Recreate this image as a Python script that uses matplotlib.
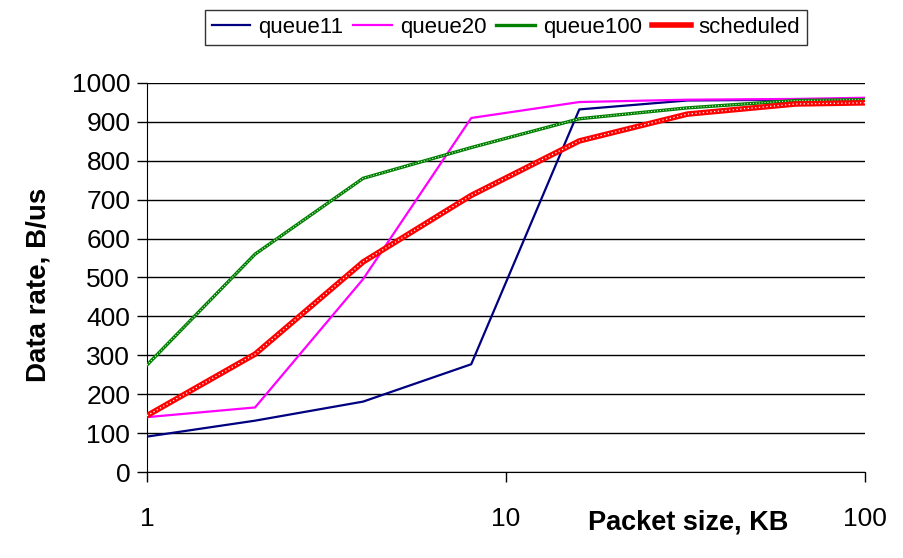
import matplotlib
matplotlib.use("Agg")
import matplotlib.pyplot as plt
from matplotlib.ticker import FixedLocator, NullLocator

plt.rcParams['font.family'] = ['Liberation Sans', 'DejaVu Sans']

# packet sizes (KB) and measured data rates (B/us)
packet_kb = [1, 2, 4, 8, 16, 32, 64, 100]
queue11 = [91, 132, 181, 277, 932, 955, 957, 960]
queue20 = [141, 166, 496, 910, 951, 957, 959, 962]
queue100 = [275, 560, 755, 834, 908, 936, 955, 957]
scheduled = [145, 303, 540, 711, 851, 920, 946, 949]

y_ticks = list(range(0, 1001, 100))
x_ticks = [1, 10, 100]
x_tick_labels = ["1", "10", "100"]

fig = plt.figure(figsize=(9.04, 5.58), dpi=100)
ax = fig.add_axes([0.1626, 0.1541, 0.7943, 0.6972])

ax.plot(packet_kb, queue11, color="#000080", lw=1.6, label="queue11", zorder=3)
ax.plot(packet_kb, queue20, color="#ff00ff", lw=1.6, label="queue20", zorder=3)
ax.plot(packet_kb, queue100, color="#008000", lw=2.4, label="queue100", zorder=3)
ax.plot(packet_kb, queue100, color="white", lw=0.7, ls=(0, (1, 2)), zorder=3)
ax.plot(packet_kb, scheduled, color="#ff0000", lw=4, label="scheduled", zorder=4)
ax.plot(packet_kb, scheduled, color="white", lw=0.9, ls=(0, (1, 2)), zorder=4)

ax.set_xscale("log")
ax.set_xlim(1, 100)
ax.set_ylim(0, 1000)
ax.xaxis.set_major_locator(FixedLocator(x_ticks))
ax.xaxis.set_minor_locator(NullLocator())
ax.set_xticklabels(x_tick_labels)
ax.set_yticks(y_ticks)

ax.grid(axis="y", color="black", lw=1)
ax.set_axisbelow(True)
for side in ["top", "right"]:
    ax.spines[side].set_visible(False)
ax.tick_params(axis="y", direction="out", length=7, width=1, labelsize=19, pad=5)
ax.tick_params(axis="x", direction="out", length=7, width=1, labelsize=19, pad=18)

fig.text(0.043, 0.49, "Data rate, B/us", rotation=90, fontsize=20,
         fontweight="bold", ha="center", va="center")
fig.text(0.761, 0.064, "Packet size, KB", fontsize=19.5,
         fontweight="bold", ha="center", va="center")

leg = fig.legend(loc="center", bbox_to_anchor=(0.5597, 0.951), ncol=4,
                 fontsize=16, frameon=True, fancybox=False, edgecolor="black",
                 handlelength=1.75, handletextpad=0.35, columnspacing=0.45,
                 borderpad=0.3)
leg.get_frame().set_linewidth(1)

fig.savefig("out.png", dpi=100)
